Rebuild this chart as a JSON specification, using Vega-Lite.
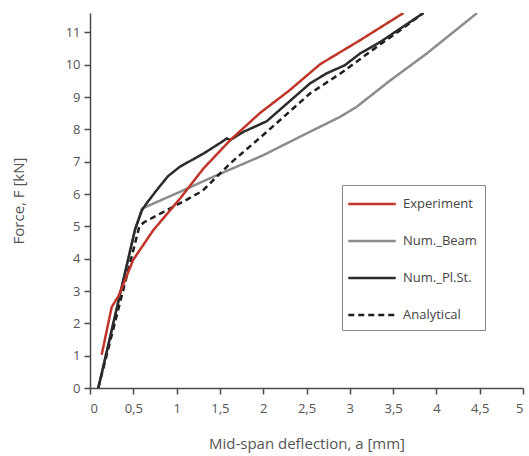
{
  "$schema": "https://vega.github.io/schema/vega-lite/v6.json",
  "autosize": {"type": "none"},
  "padding": {"left": 90, "top": 13, "right": 6, "bottom": 68},
  "width": 433,
  "height": 375,
  "background": "white",
  "config": {
    "view": {"stroke": null},
    "font": "Open Sans",
    "axis": {
      "grid": false,
      "domainColor": "#4a4a4a",
      "domainWidth": 1.5,
      "tickColor": "#4a4a4a",
      "tickWidth": 1.5,
      "tickSize": 6,
      "labelColor": "#555555",
      "labelFontSize": 13,
      "labelFont": "Open Sans",
      "titleFont": "Open Sans",
      "titleFontSize": 15,
      "titleFontWeight": "normal",
      "titleColor": "#555555"
    },
    "legend": {
      "labelFont": "Open Sans",
      "labelFontSize": 13,
      "labelColor": "#444444"
    }
  },
  "data": {
    "values": [
      {"s": "Num._Beam", "a": 0.096, "F": 0},
      {"s": "Num._Beam", "a": 0.52, "F": 4.9},
      {"s": "Num._Beam", "a": 0.6, "F": 5.55},
      {"s": "Num._Beam", "a": 1.04, "F": 6.07},
      {"s": "Num._Beam", "a": 1.42, "F": 6.53},
      {"s": "Num._Beam", "a": 2.0, "F": 7.2},
      {"s": "Num._Beam", "a": 2.46, "F": 7.82},
      {"s": "Num._Beam", "a": 2.89, "F": 8.39},
      {"s": "Num._Beam", "a": 3.08, "F": 8.7},
      {"s": "Num._Beam", "a": 3.46, "F": 9.5},
      {"s": "Num._Beam", "a": 3.89, "F": 10.35},
      {"s": "Num._Beam", "a": 4.47, "F": 11.6},
      {"s": "Analytical", "a": 0.096, "F": 0},
      {"s": "Analytical", "a": 0.57, "F": 5.0},
      {"s": "Analytical", "a": 0.62, "F": 5.12},
      {"s": "Analytical", "a": 0.85, "F": 5.45},
      {"s": "Analytical", "a": 1.1, "F": 5.8},
      {"s": "Analytical", "a": 1.3, "F": 6.1},
      {"s": "Analytical", "a": 1.45, "F": 6.5},
      {"s": "Analytical", "a": 1.62, "F": 6.95},
      {"s": "Analytical", "a": 2.04, "F": 7.92},
      {"s": "Analytical", "a": 2.54, "F": 9.11},
      {"s": "Analytical", "a": 2.92, "F": 9.78},
      {"s": "Analytical", "a": 3.31, "F": 10.55},
      {"s": "Analytical", "a": 3.6, "F": 11.1},
      {"s": "Analytical", "a": 3.85, "F": 11.6},
      {"s": "Num._Pl.St.", "a": 0.096, "F": 0},
      {"s": "Num._Pl.St.", "a": 0.52, "F": 4.9},
      {"s": "Num._Pl.St.", "a": 0.6, "F": 5.5},
      {"s": "Num._Pl.St.", "a": 0.65, "F": 5.7},
      {"s": "Num._Pl.St.", "a": 0.77, "F": 6.12},
      {"s": "Num._Pl.St.", "a": 0.9, "F": 6.55},
      {"s": "Num._Pl.St.", "a": 1.04, "F": 6.85},
      {"s": "Num._Pl.St.", "a": 1.31, "F": 7.25},
      {"s": "Num._Pl.St.", "a": 1.52, "F": 7.61},
      {"s": "Num._Pl.St.", "a": 1.58, "F": 7.72},
      {"s": "Num._Pl.St.", "a": 1.62, "F": 7.67},
      {"s": "Num._Pl.St.", "a": 1.77, "F": 7.92},
      {"s": "Num._Pl.St.", "a": 2.04, "F": 8.25},
      {"s": "Num._Pl.St.", "a": 2.54, "F": 9.42},
      {"s": "Num._Pl.St.", "a": 2.73, "F": 9.73},
      {"s": "Num._Pl.St.", "a": 2.94, "F": 9.98},
      {"s": "Num._Pl.St.", "a": 3.12, "F": 10.35},
      {"s": "Num._Pl.St.", "a": 3.35, "F": 10.7},
      {"s": "Num._Pl.St.", "a": 3.85, "F": 11.6},
      {"s": "Experiment", "a": 0.135, "F": 1.03},
      {"s": "Experiment", "a": 0.25, "F": 2.5},
      {"s": "Experiment", "a": 0.33, "F": 2.85},
      {"s": "Experiment", "a": 0.5, "F": 3.97},
      {"s": "Experiment", "a": 0.73, "F": 4.88},
      {"s": "Experiment", "a": 1.04, "F": 5.86},
      {"s": "Experiment", "a": 1.31, "F": 6.79},
      {"s": "Experiment", "a": 1.62, "F": 7.67},
      {"s": "Experiment", "a": 1.96, "F": 8.5},
      {"s": "Experiment", "a": 2.3, "F": 9.2},
      {"s": "Experiment", "a": 2.66, "F": 10.02},
      {"s": "Experiment", "a": 3.12, "F": 10.76},
      {"s": "Experiment", "a": 3.62, "F": 11.6}
    ]
  },
  "mark": {"type": "line", "strokeWidth": 2.5, "clip": true},
  "encoding": {
    "x": {
      "field": "a",
      "type": "quantitative",
      "scale": {"domain": [0, 5], "nice": false},
      "axis": {
        "values": [0, 0.5, 1, 1.5, 2, 2.5, 3, 3.5, 4, 4.5, 5],
        "labelExpr": "replace(format(datum.value, '.1~f'), '.', ',')",
        "labelPadding": 8,
        "title": "Mid-span deflection, a [mm]",
        "titleY": 55,
        "titleBaseline": "middle"
      }
    },
    "y": {
      "field": "F",
      "type": "quantitative",
      "scale": {"domain": [0, 11.6], "nice": false},
      "axis": {
        "values": [0, 1, 2, 3, 4, 5, 6, 7, 8, 9, 10, 11],
        "labelPadding": 4,
        "title": "Force, F [kN]",
        "titleX": -72,
        "titleBaseline": "middle"
      }
    },
    "color": {
      "field": "s",
      "type": "nominal",
      "scale": {
        "domain": ["Experiment", "Num._Beam", "Num._Pl.St.", "Analytical"],
        "range": ["#c0352a", "#8c8c8c", "#2b2b2b", "#1e1e1e"]
      },
      "legend": {
        "title": null,
        "orient": "none",
        "legendX": 252,
        "legendY": 172,
        "fillColor": "white",
        "strokeColor": "#888888",
        "padding": 8,
        "symbolType": "M-2.5,0H2.5",
        "symbolSize": 361,
        "symbolStrokeWidth": 2.5,
        "symbolOffset": 11,
        "labelOffset": 20,
        "rowPadding": 19,
        "labelExpr": "datum.label + '\u2003\u2003\u2003'"
      }
    },
    "strokeDash": {
      "field": "s",
      "type": "nominal",
      "scale": {
        "domain": ["Experiment", "Num._Beam", "Num._Pl.St.", "Analytical"],
        "range": [[1, 0], [1, 0], [1, 0], [6, 4]]
      },
      "legend": {
        "title": null,
        "orient": "none",
        "legendX": 252,
        "legendY": 172,
        "fillColor": "white",
        "strokeColor": "#888888",
        "padding": 8,
        "symbolType": "M-2.5,0H2.5",
        "symbolSize": 361,
        "symbolStrokeWidth": 2.5,
        "symbolOffset": 11,
        "labelOffset": 20,
        "rowPadding": 19,
        "labelExpr": "datum.label + '\u2003\u2003\u2003'"
      }
    }
  }
}
